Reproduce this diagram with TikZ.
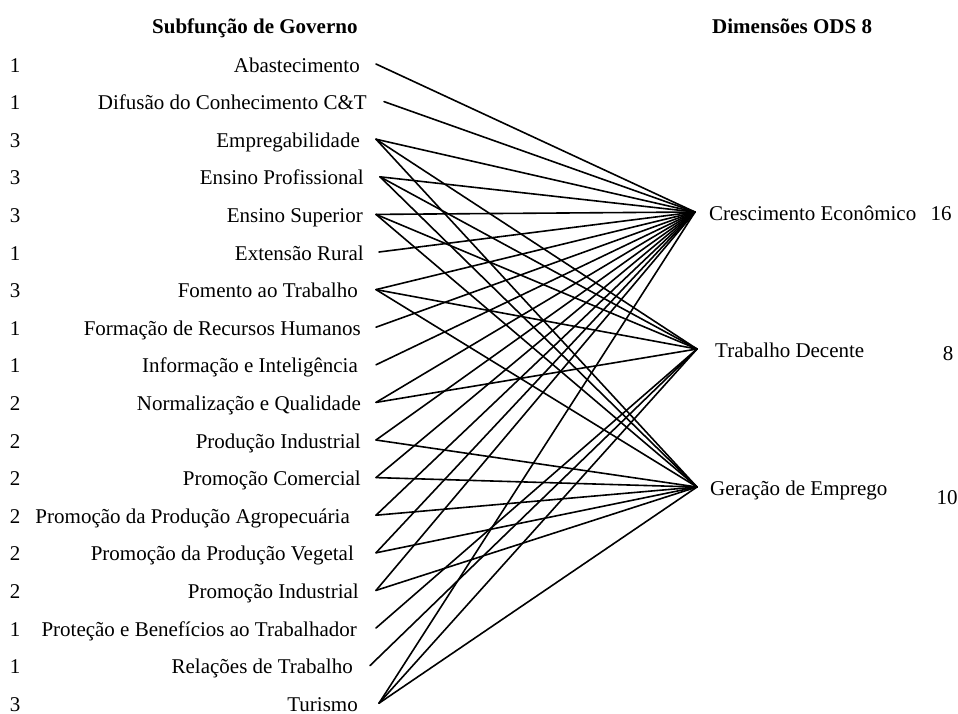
\documentclass[tikz,border=0pt]{standalone}
\usepackage{fontspec}
\setmainfont{Liberation Serif}
\begin{document}
\begin{tikzpicture}[x=1pt,y=-1pt,
  txt/.style={inner sep=0pt,font=\fontsize{21}{25}\selectfont},
  lbl/.style={txt,anchor=base east},
  rlbl/.style={txt,anchor=base west},
  num/.style={txt,anchor=base},
  ttl/.style={inner sep=0pt,anchor=base west,font=\fontsize{21}{25}\selectfont\bfseries},
  conn/.style={line width=1.6pt,line cap=round}]
\useasboundingbox (0,0) rectangle (958,713);

% titles
\node[ttl] (h1) at (152,33) {Subfunção de Governo};
\node[ttl] (h2) at (712,33) {Dimensões ODS 8};

% left rows
\foreach \i/\name/\xe/\xl/\cnt in {
  1/Abastecimento/360/376/1,
  2/Difusão do Conhecimento C\&T/367/384/1,
  3/Empregabilidade/360/376/3,
  4/Ensino Profissional/364/380/3,
  5/Ensino Superior/363/376/3,
  6/Extensão Rural/364/379/1,
  7/Fomento ao Trabalho/358/376/3,
  8/Formação de Recursos Humanos/361/376/1,
  9/Informação e Inteligência/358/376/1,
  10/Normalização e Qualidade/361/376/2,
  11/Produção Industrial/361/376/2,
  12/Promoção Comercial/361/376/2,
  13/Promoção da Produção Agropecuária/350/376/2,
  14/Promoção da Produção Vegetal/354/376/2,
  15/Promoção Industrial/359/376/2,
  16/Proteção e Benefícios ao Trabalhador/357/376/1,
  17/Relações de Trabalho/353/370/1,
  18/Turismo/358/379/3}{
  \pgfmathsetmacro{\yb}{72+37.6*(\i-1)}
  \pgfmathsetmacro{\yl}{64+37.6*(\i-1)}
  \node[lbl] (t\i) at (\xe,\yb) {\name};
  \node[num] (n\i) at (15,\yb) {\cnt};
  \coordinate (p\i) at (\xl,\yl);
}

% right side
\coordinate (rc) at (695,212);
\coordinate (rt) at (697,349);
\coordinate (rg) at (697,487);
\node[rlbl] (lc) at (709,220) {Crescimento Econômico};
\node[rlbl] (lt) at (715,357) {Trabalho Decente};
\node[rlbl] (lg) at (710,495) {Geração de Emprego};
\node[num] (nc) at (941,220) {16};
\node[num] (nt) at (948,360) {8};
\node[num] (ng) at (947,504) {10};

% connectors
\foreach \i in {1,2,3,4,5,6,7,8,9,10,11,12,13,14,15,18}
  \draw[conn] (p\i) -- (rc);
\foreach \i in {3,4,5,7,10,16,17,18}
  \draw[conn] (p\i) -- (rt);
\foreach \i in {3,4,5,7,11,12,13,14,15,18}
  \draw[conn] (p\i) -- (rg);
\end{tikzpicture}
\end{document}
